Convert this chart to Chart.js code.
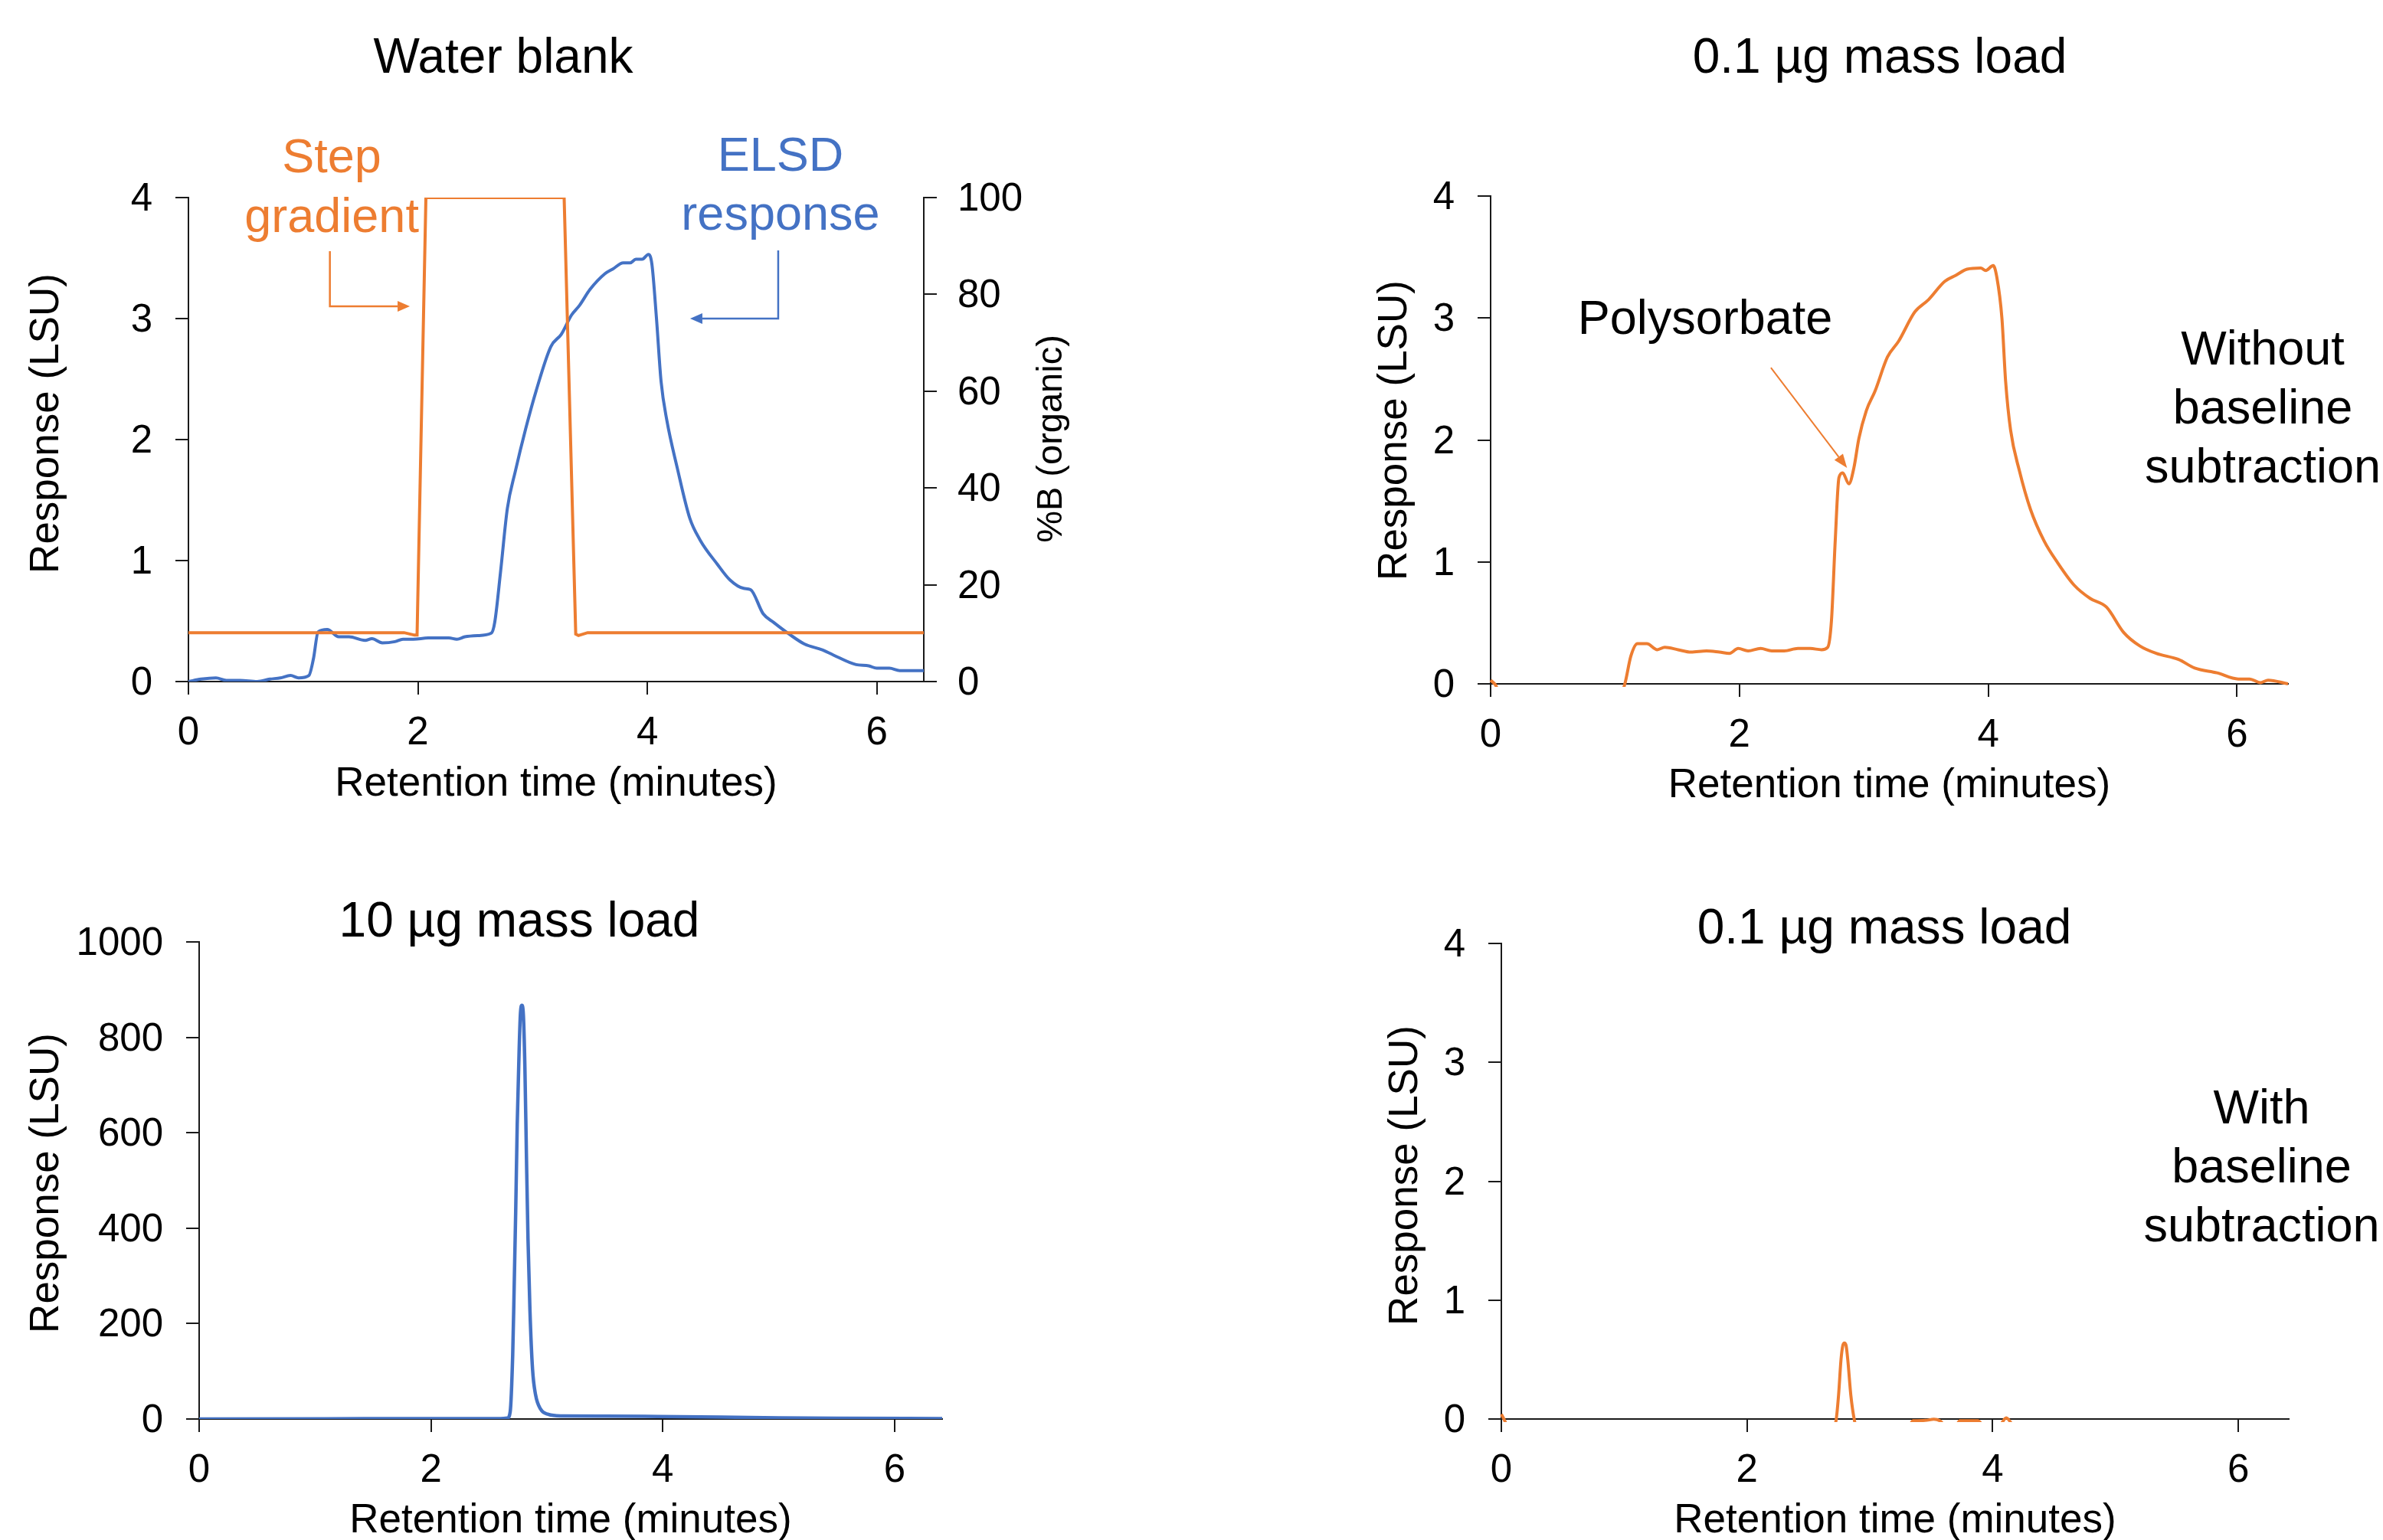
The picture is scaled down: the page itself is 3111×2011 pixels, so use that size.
<!DOCTYPE html>
<html>
<head>
<meta charset="utf-8">
<script src="https://cdn.jsdelivr.net/npm/chart.js@4.4.0/dist/chart.umd.min.js"></script>
<style>
  html, body { margin: 0; padding: 0; background: #fff; overflow: hidden; }
  #page { position: relative; width: 3111px; height: 2011px; overflow: hidden; background: #fff; }
  canvas { position: absolute; }
</style>
</head>
<body>
<div id="page">
  <canvas id="blankChart" width="1555" height="1100" style="left:0px;top:0px"></canvas>
  <canvas id="rawChart" width="1556" height="1100" style="left:1555px;top:0px"></canvas>
  <canvas id="loadChart" width="1555" height="960" style="left:0px;top:1100px"></canvas>
  <canvas id="subChart" width="1556" height="960" style="left:1555px;top:1100px"></canvas>
</div>
<script>
const FONT = '"Liberation Sans", Arial, sans-serif';
const BLUE = "#4472C4";
const ORANGE = "#ED7D31";
const AXIS = "#1a1a1a";
const X_MAX = 6.41;

// water blank: ELSD response (LSU)
const blankTime = [0, 0.11, 0.24, 0.33, 0.45, 0.6, 0.71, 0.8, 0.89, 0.96, 1.05, 1.09, 1.13, 1.21, 1.31, 1.4, 1.54, 1.6, 1.69, 1.8, 1.87, 1.96, 2.09, 2.27, 2.34, 2.41, 2.52, 2.64, 2.67, 2.72, 2.78, 2.85, 2.94, 3.03, 3.16, 3.25, 3.34, 3.41, 3.5, 3.63, 3.7, 3.79, 3.85, 3.9, 3.955, 4.01, 4.04, 4.08, 4.12, 4.17, 4.26, 4.37, 4.46, 4.61, 4.72, 4.84, 4.9, 5.01, 5.1, 5.24, 5.37, 5.53, 5.62, 5.82, 5.93, 6.0, 6.11, 6.2, 6.37, 6.41];
const blankElsd = [0, 0.02, 0.03, 0.01, 0.01, 0, 0.02, 0.03, 0.05, 0.03, 0.05, 0.19, 0.41, 0.43, 0.37, 0.37, 0.34, 0.355, 0.32, 0.33, 0.35, 0.35, 0.36, 0.36, 0.35, 0.37, 0.38, 0.4, 0.49, 0.9, 1.43, 1.74, 2.09, 2.4, 2.77, 2.87, 3.03, 3.11, 3.24, 3.37, 3.41, 3.46, 3.46, 3.49, 3.49, 3.53, 3.45, 3.0, 2.48, 2.16, 1.77, 1.35, 1.17, 0.97, 0.84, 0.77, 0.76, 0.56, 0.49, 0.39, 0.31, 0.26, 0.22, 0.14, 0.13, 0.11, 0.11, 0.09, 0.09, 0.09];

// step gradient (%B organic)
const gradTime = [0, 1.88, 1.97, 1.993, 2.07, 2.1, 3.25, 3.275, 3.376, 3.4, 3.48, 6.41];
const gradPct = [10.1, 10.1, 9.6, 9.6, 100, 100, 100, 100, 9.8, 9.5, 10.1, 10.1];

// 0.1 ug load, no baseline subtraction
const rawTime = [0, 0.04, 0.08, 1.04, 1.079, 1.128, 1.18, 1.256, 1.34, 1.4, 1.507, 1.61, 1.736, 1.84, 1.92, 1.99, 2.07, 2.17, 2.26, 2.36, 2.47, 2.57, 2.66, 2.71, 2.74, 2.77, 2.8, 2.83, 2.88, 2.92, 2.96, 3.02, 3.09, 3.19, 3.28, 3.41, 3.52, 3.65, 3.74, 3.83, 3.94, 3.98, 4.04, 4.07, 4.11, 4.14, 4.18, 4.25, 4.34, 4.45, 4.56, 4.69, 4.82, 4.95, 5.09, 5.22, 5.35, 5.53, 5.66, 5.84, 6.01, 6.1, 6.19, 6.25, 6.41];
const rawResp = [0.03, -0.01, -0.1, -0.1, 0, 0.23, 0.33, 0.33, 0.28, 0.3, 0.28, 0.26, 0.27, 0.26, 0.25, 0.29, 0.27, 0.29, 0.27, 0.27, 0.29, 0.29, 0.28, 0.3, 0.52, 1.17, 1.69, 1.73, 1.64, 1.77, 2.01, 2.24, 2.4, 2.68, 2.81, 3.05, 3.15, 3.3, 3.35, 3.4, 3.41, 3.39, 3.43, 3.33, 3.0, 2.48, 2.08, 1.75, 1.43, 1.17, 0.99, 0.81, 0.7, 0.63, 0.42, 0.31, 0.25, 0.2, 0.13, 0.09, 0.04, 0.04, 0.01, 0.03, 0];

// 10 ug load
const loadTime = [0, 1.1, 2.0, 2.6, 2.66, 2.683, 2.705, 2.716, 2.731, 2.744, 2.76, 2.771, 2.784, 2.797, 2.81, 2.823, 2.837, 2.854, 2.876, 2.902, 2.946, 3.012, 3.122, 3.5, 3.958, 4.5, 5.0, 5.5, 6.41];
const loadResp = [0, 0.5, 1, 1, 2, 14.6, 135, 256, 437, 618, 769, 847, 867, 847, 739, 558, 377, 226, 105, 51, 20.5, 9.7, 6.4, 6, 5.2, 4, 2.5, 1.5, 1];

// 0.1 ug load, with baseline subtraction
const subTime = [0, 0.03, 0.06, 2.68, 2.725, 2.745, 2.765, 2.78, 2.793, 2.806, 2.82, 2.845, 2.874, 2.9, 3.3, 3.35, 3.45, 3.52, 3.57, 3.62, 3.7, 3.73, 3.88, 3.93, 4.05, 4.11, 4.17, 4.25, 6.41];
const subResp = [0.04, -0.02, -0.1, -0.1, -0.01, 0.2, 0.5, 0.62, 0.64, 0.62, 0.5, 0.2, -0.01, -0.1, -0.1, -0.015, -0.012, -0.002, -0.015, -0.06, -0.06, -0.015, -0.015, -0.06, -0.06, 0.01, -0.06, -0.1, -0.1];

Chart.defaults.font.family = FONT;
Chart.defaults.color = "#000";

function pts(xs, ys) {
  return xs.map((x, i) => ({ x: x, y: ys[i] }));
}

function drawArrow(ctx, p, color, width, headLen, headHalf) {
  const n = p.length;
  const tx = p[n - 1][0], ty = p[n - 1][1];
  const ang = Math.atan2(ty - p[n - 2][1], tx - p[n - 2][0]);
  const bx = tx - headLen * Math.cos(ang), by = ty - headLen * Math.sin(ang);
  ctx.strokeStyle = color;
  ctx.lineWidth = width;
  ctx.lineJoin = "miter";
  ctx.beginPath();
  ctx.moveTo(p[0][0], p[0][1]);
  for (let i = 1; i < n - 1; i++) ctx.lineTo(p[i][0], p[i][1]);
  ctx.lineTo(bx, by);
  ctx.stroke();
  ctx.fillStyle = color;
  ctx.beginPath();
  ctx.moveTo(tx, ty);
  ctx.lineTo(bx + headHalf * Math.sin(ang), by - headHalf * Math.cos(ang));
  ctx.lineTo(bx - headHalf * Math.sin(ang), by + headHalf * Math.cos(ang));
  ctx.closePath();
  ctx.fill();
}

// titles, rotated axis titles and annotations
const panelText = {
  id: "panelText",
  afterDraw(chart, args, opts) {
    const ctx = chart.ctx;
    const xs = chart.scales.x, ys = chart.scales.y;
    ctx.save();
    ctx.textAlign = "center";
    (opts.texts || []).forEach((t) => {
      ctx.font = t.size + "px " + FONT;
      ctx.fillStyle = t.color || "#000";
      let px = t.px, py = t.py;
      if (t.t !== undefined) {
        px = xs.getPixelForValue(t.t);
        py = ys.getPixelForValue(t.v);
      }
      if (t.rotate) {
        ctx.save();
        ctx.translate(px, py);
        ctx.rotate(-Math.PI / 2);
        ctx.textBaseline = "middle";
        ctx.fillText(t.text, 0, 0);
        ctx.restore();
      } else {
        ctx.textBaseline = "alphabetic";
        ctx.fillText(t.text, px, py);
      }
    });
    (opts.arrows || []).forEach((a) => {
      const p = a.pts.map((q) => [xs.getPixelForValue(q[0]), ys.getPixelForValue(q[1])]);
      drawArrow(ctx, p, a.color, a.width, a.head, a.half);
    });
    ctx.restore();
  },
};

function xAxis(height, titlePad) {
  return {
    type: "linear",
    min: 0,
    max: X_MAX,
    afterFit: (s) => { s.height = height; },
    ticks: { stepSize: 2, includeBounds: false, padding: 20, maxRotation: 0, color: "#000", font: { size: 51 }, callback: (v) => String(v) },
    grid: { drawOnChartArea: false, tickLength: 17, color: AXIS, lineWidth: 2 },
    border: { color: AXIS, width: 2 },
    title: { display: true, text: "Retention time (minutes)", color: "#000", font: { size: 53 }, padding: { top: 0, bottom: titlePad } },
  };
}

function yAxis(width, max, step, position) {
  return {
    type: "linear",
    position: position || "left",
    min: 0,
    max: max,
    afterFit: (s) => { s.width = width; },
    ticks: { stepSize: step, labelOffset: 3, padding: position === "right" ? 27 : 30, color: "#000", font: { size: 51 }, callback: (v) => String(v) },
    grid: { drawOnChartArea: false, tickLength: 17, color: AXIS, lineWidth: 2 },
    border: { color: AXIS, width: 2 },
  };
}

function baseOptions(padding, scales, text) {
  return {
    responsive: false,
    animation: false,
    devicePixelRatio: 1,
    events: [],
    layout: { padding: padding },
    scales: scales,
    plugins: { legend: { display: false }, tooltip: { enabled: false }, panelText: text },
  };
}

new Chart(document.getElementById("blankChart"), {
  type: "line",
  data: {
    datasets: [
      { data: pts(gradTime, gradPct), yAxisID: "y1", borderColor: ORANGE, borderWidth: 4, pointRadius: 0, tension: 0 },
      { data: pts(blankTime, blankElsd), yAxisID: "y", borderColor: BLUE, borderWidth: 4, pointRadius: 0, cubicInterpolationMode: "monotone" },
    ],
  },
  options: baseOptions(
    { top: 258, left: 0, right: 0, bottom: 0 },
    { x: xAxis(210, 44), y: yAxis(246, 4, 1), y1: yAxis(349, 100, 20, "right") },
    {
      texts: [
        { text: "Water blank", px: 657, py: 95, size: 64 },
        { text: "Response (LSU)", px: 61, py: 553, size: 53, rotate: true },
        { text: "%B (organic)", px: 1373, py: 573, size: 47, rotate: true },
        { text: "Step", t: 1.249, v: 4.209, size: 63, color: ORANGE },
        { text: "gradient", t: 1.249, v: 3.715, size: 63, color: ORANGE },
        { text: "ELSD", t: 5.161, v: 4.222, size: 63, color: BLUE },
        { text: "response", t: 5.161, v: 3.734, size: 63, color: BLUE },
      ],
      arrows: [
        { pts: [[1.233, 3.557], [1.233, 3.101], [1.93, 3.101]], color: ORANGE, width: 2.5, head: 16, half: 7 },
        { pts: [[5.141, 3.563], [5.141, 3.0], [4.373, 3.0]], color: BLUE, width: 2.5, head: 16, half: 7 },
      ],
    }
  ),
  plugins: [panelText],
});

new Chart(document.getElementById("rawChart"), {
  type: "line",
  data: {
    datasets: [
      { data: pts(rawTime, rawResp), borderColor: ORANGE, borderWidth: 4, pointRadius: 0, cubicInterpolationMode: "monotone", clip: { left: 4, top: 4, right: 4, bottom: 4 } },
    ],
  },
  options: baseOptions(
    { top: 256, left: 0, right: 124, bottom: 0 },
    { x: xAxis(207, 42), y: yAxis(391, 4, 1) },
    {
      texts: [
        { text: "0.1 µg mass load", px: 899, py: 95, size: 64 },
        { text: "Response (LSU)", px: 266, py: 562, size: 53, rotate: true },
        { text: "Polysorbate", t: 1.724, v: 2.87, size: 63 },
        { text: "Without", t: 6.207, v: 2.618, size: 63 },
        { text: "baseline", t: 6.207, v: 2.135, size: 63 },
        { text: "subtraction", t: 6.207, v: 1.651, size: 63 },
      ],
      arrows: [
        { pts: [[2.253, 2.592], [2.865, 1.771]], color: ORANGE, width: 2, head: 18, half: 7 },
      ],
    }
  ),
  plugins: [panelText],
});

new Chart(document.getElementById("loadChart"), {
  type: "line",
  data: {
    datasets: [
      { data: pts(loadTime, loadResp), borderColor: BLUE, borderWidth: 4.5, pointRadius: 0, cubicInterpolationMode: "monotone" },
    ],
  },
  options: baseOptions(
    { top: 130, left: 0, right: 325, bottom: 0 },
    { x: xAxis(207, 42), y: yAxis(260, 1000, 200) },
    {
      texts: [
        { text: "10 µg mass load", px: 678, py: 123, size: 64 },
        { text: "Response (LSU)", px: 61, py: 445, size: 53, rotate: true },
      ],
    }
  ),
  plugins: [panelText],
});

new Chart(document.getElementById("subChart"), {
  type: "line",
  data: {
    datasets: [
      { data: pts(subTime, subResp), borderColor: ORANGE, borderWidth: 4, pointRadius: 0, cubicInterpolationMode: "monotone", clip: { left: 4, top: 4, right: 4, bottom: 4 } },
    ],
  },
  options: baseOptions(
    { top: 132, left: 0, right: 123, bottom: 0 },
    { x: xAxis(207, 42), y: yAxis(405, 4, 1) },
    {
      texts: [
        { text: "0.1 µg mass load", px: 905, py: 132, size: 64 },
        { text: "Response (LSU)", px: 280, py: 435, size: 53, rotate: true },
        { text: "With", t: 6.189, v: 2.486, size: 63 },
        { text: "baseline", t: 6.189, v: 1.99, size: 63 },
        { text: "subtraction", t: 6.189, v: 1.494, size: 63 },
      ],
    }
  ),
  plugins: [panelText],
});
</script>
</body>
</html>
